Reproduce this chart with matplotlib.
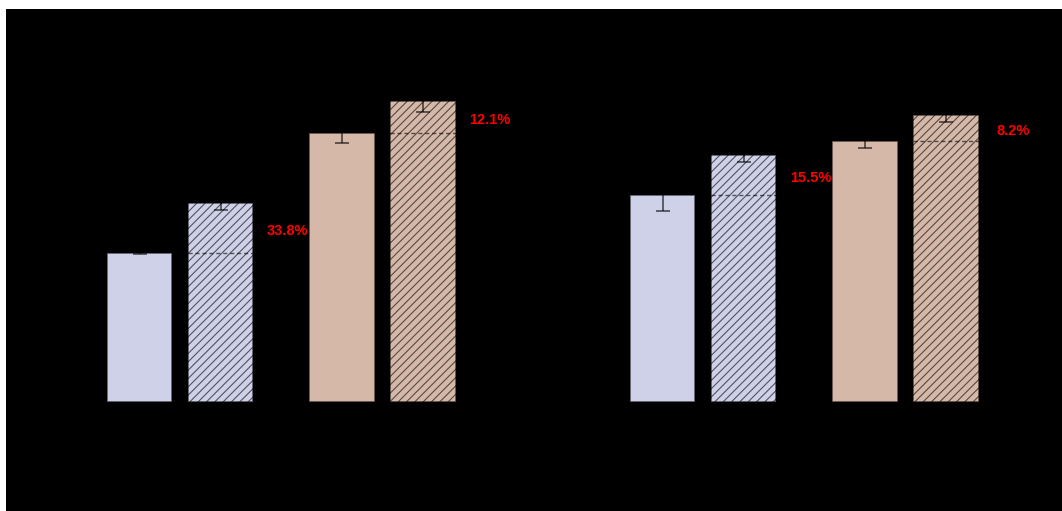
import matplotlib
matplotlib.use("Agg")
import matplotlib.pyplot as plt
from matplotlib.patches import Rectangle

# Bar values: for each panel, [baseline A, improved A, baseline B, improved B]
left_values = [1.487, 1.990, 2.690, 3.015]
left_errors = [0.01, 0.07, 0.10, 0.11]
right_values = [2.570, 2.968, 3.110, 3.365]
right_errors = [0.16, 0.07, 0.07, 0.07]

left_ylim = (0.0, 3.72)
right_ylim = (0.5, 4.22)

positions = [0.0, 1.0, 2.5, 3.5]
bar_width = 0.81
face_colors = ["#CFD1E8", "#CFD1E8", "#D6B8A8", "#D6B8A8"]
edge_color = (0, 0, 0, 0.6)
hatches = [None, "////", None, "////"]

plt.rcParams["font.family"] = ["Liberation Sans", "DejaVu Sans"]
plt.rcParams["hatch.linewidth"] = 0.8

fig = plt.figure(figsize=(10.62, 5.11), dpi=100, facecolor="black")
W, H = 1062.0, 511.0

# thin white margins along the top and left edges
fig.patches.append(Rectangle((0, 1 - 9 / H), 1, 9 / H, transform=fig.transFigure,
                             facecolor="white", edgecolor="none", zorder=-1))
fig.patches.append(Rectangle((0, 0), 6 / W, 1, transform=fig.transFigure,
                             facecolor="white", edgecolor="none", zorder=-1))

ax_w = 450 / W
ax_h = 372 / H
ax_bottom = (H - 402) / H
ax_left = fig.add_axes([60 / W, ax_bottom, ax_w, ax_h])
ax_right = fig.add_axes([583 / W, ax_bottom, ax_w, ax_h])

x_lo = -79.5 / 81.0
x_hi = x_lo + 450 / 81.0


def draw_panel(ax, values, errors, ylim):
    ax.set_facecolor("none")
    for x, v, e, fc, h in zip(positions, values, errors, face_colors, hatches):
        ax.bar(x, v - ylim[0], bottom=ylim[0], width=bar_width, color=fc,
               edgecolor=edge_color, hatch=h, linewidth=1.2, zorder=2)
        ax.errorbar(x, v, yerr=e, fmt="none", ecolor=(0, 0, 0, 0.6), elinewidth=1.3,
                    capsize=5, capthick=1.3, zorder=3)
    # reference level of the baseline bar drawn across each improved bar
    for base_i, imp_i in [(0, 1), (2, 3)]:
        xi = positions[imp_i]
        ax.plot([xi - bar_width / 2, xi + bar_width / 2],
                [values[base_i], values[base_i]],
                linestyle=(0, (3, 2)), color=(0, 0, 0, 0.6), linewidth=1.0, zorder=4)
        gain = (values[imp_i] / values[base_i] - 1) * 100
        ax.text(xi + 0.83, (values[base_i] + values[imp_i]) / 2 - 0.03,
                f"{gain:.1f}%", color="red", fontsize=10.5, fontweight="bold",
                ha="center", va="center", zorder=5, clip_on=False)
    ax.set_xlim(x_lo, x_hi)
    ax.set_ylim(*ylim)
    ax.set_xticks([])
    for s in ax.spines.values():
        s.set_color("black")
    ax.tick_params(colors="black")


draw_panel(ax_left, left_values, left_errors, left_ylim)
draw_panel(ax_right, right_values, right_errors, right_ylim)

fig.savefig("out.png", dpi=100, facecolor=fig.get_facecolor())
